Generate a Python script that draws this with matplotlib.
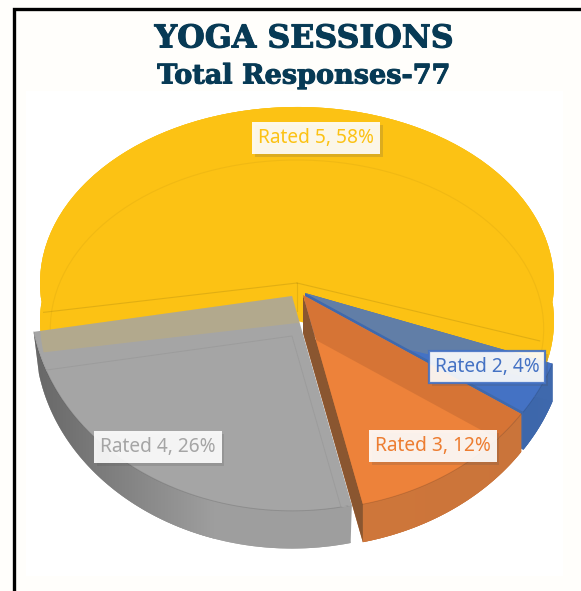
import numpy as np
import matplotlib
matplotlib.use('Agg')
import matplotlib.pyplot as plt
from matplotlib.patches import Rectangle, Polygon, Wedge
from matplotlib.transforms import Affine2D
from matplotlib.colors import LinearSegmentedColormap
import matplotlib.patheffects as pe

W, H = 581, 591
DEPTH = 38

# clockwise from the back of the pie
categories = ['Rated 5', 'Rated 2', 'Rated 3', 'Rated 4']
shares = [58, 4, 12, 26]
colors = ['#fcc214', '#4472c4', '#ed823a', '#a5a5a5']
label_colors = ['#fcc214', '#4472c4', '#ed7d31', '#a5a5a5']
rim_colors = [('#fcc214', '#fcc214'), ('#2c5596', '#3f69ad'),
              ('#d87b3c', '#c9743a'), ('#666666', '#9e9e9e')]
# pixel placement of every slice: centre x, centre y, radius, squash
placement = [(297, 283, 257, 0.685), (305, 293, 262, 0.82),
             (303, 295, 262, 0.82), (292, 296, 262, 0.82)]
label_pos = [(316, 138), (487, 367), (433, 446), (158, 447)]
# which slice's underside shows through each slice, and how strongly
overlay = [None, (0, 0.16), None, (0, 0.16)]


def place(i, shift=0, inset=1.0):
    cx, cy, r, sq = placement[i]
    return Affine2D().scale(r * inset, r * inset * sq).translate(cx, H - cy - shift) + ax.transData


def arc(i, t1, t2, shift=0, inset=1.0, n=80):
    cx, cy, r, sq = placement[i]
    t = np.radians(np.linspace(t1, t2, n))
    return cx + r * inset * np.cos(t), H - cy - shift + r * inset * sq * np.sin(t)


fig = plt.figure(figsize=(W / 100, H / 100), dpi=100, facecolor='#fffefb')
ax = fig.add_axes([0, 0, 1, 1])

wedges, _ = ax.pie(shares, startangle=189.6, counterclock=False, colors=colors, radius=1)
ax.set_aspect('auto')
ax.set_xlim(0, W)
ax.set_ylim(0, H)

ax.add_patch(Rectangle((26, H - 576), 537, 485, fc='white', ec='none', zorder=0))
ax.add_patch(Rectangle((14, -5), W + 20, H - 4, fc='none', ec='black', lw=2.4, zorder=0.5))

# back to front: yellow, blue, orange, grey
for z, i in enumerate([0, 1, 2, 3]):
    w = wedges[i]
    base = 1 + z
    t1, t2 = w.theta1, w.theta2
    # the grey rim narrows a little towards the bottom, like the perspective in the original
    low_inset = 0.98 if i == 3 else 1.0
    low_depth = DEPTH + 4 if i == 3 else DEPTH
    # rim, swept downwards from the outer arc
    x1, y1 = arc(i, t1, t2)
    x2, y2 = arc(i, t1, t2, shift=low_depth, inset=low_inset)
    sweep = Polygon(np.column_stack([np.r_[x1, x2[::-1]], np.r_[y1, y2[::-1]]]),
                    fc=rim_colors[i][1], ec='none', zorder=base)
    ax.add_patch(sweep)
    low = Wedge((0, 0), 1, t1, t2, fc=rim_colors[i][1], ec='none', zorder=base,
                transform=place(i, shift=low_depth, inset=low_inset))
    ax.add_patch(low)
    cx, cy, r, sq = placement[i]
    cmap = LinearSegmentedColormap.from_list('rim', rim_colors[i])
    span = (cx - r, cx - r * 0.3) if i == 3 else (cx - r, cx + r)
    img = ax.imshow(np.linspace(0, 1, 256)[None, :], extent=(span[0], span[1], 0, H), cmap=cmap,
                    aspect='auto', zorder=base + 0.1, origin='lower')
    img.set_clip_path(sweep)

    # cut faces: dark on the left of orange, blue under the lower edge of blue
    if i == 2:
        xa, ya = arc(i, t1, t1, n=1)
        face = [(cx, H - cy), (xa[0], ya[0]), (xa[0], ya[0] - DEPTH), (cx, H - cy - DEPTH)]
        ax.add_patch(Polygon(face, fc='#8a5630', ec='none', zorder=base + 0.2))
    if i == 1:
        xa, ya = arc(i, t2, t2, n=1)
        face = [(cx, H - cy), (xa[0], ya[0]), (xa[0], ya[0] - DEPTH), (cx, H - cy - DEPTH)]
        ax.add_patch(Polygon(face, fc='#3f69ad', ec='none', zorder=base + 0.2))

    w.set_zorder(base + 0.3)
    w.set_transform(place(i))
    w.set_edgecolor('none')

    if overlay[i] is not None:
        k, a = overlay[i]
        over = Wedge((0, 0), 1, wedges[k].theta1, wedges[k].theta2, fc=colors[k], ec='none',
                     alpha=a, zorder=base + 0.4, transform=place(k, shift=DEPTH + 2))
        ax.add_patch(over)
        over.set_clip_path(w)

    # the blue slice's upper edge shades the back of the orange top
    if i == 2:
        xa, ya = arc(i, t2, t2, n=1)
        xb, yb = arc(i, t2, t2, shift=DEPTH, n=1)
        dark = Polygon([(cx, H - cy), (xa[0], ya[0]), (xb[0], yb[0]), (cx, H - cy - DEPTH)],
                       fc='#c46a32', ec='none', alpha=0.55, zorder=base + 0.4)
        ax.add_patch(dark)
        dark.set_clip_path(w)

    # faint line where the top meets the rim
    if i != 0:
        bx, by = arc(i, t1, t2)
        ax.add_line(plt.Line2D(bx, by, color='#000000', alpha=0.12, lw=0.7, zorder=base + 0.5))

# inner bevel of the yellow slice
bx, by = arc(0, wedges[0].theta1, wedges[0].theta2, shift=46, inset=0.96)
ax.plot(bx, by, color='#c99a10', alpha=0.22, lw=0.8, zorder=1.5)
cx, cy, r, sq = placement[0]
for t in (wedges[0].theta1, wedges[0].theta2):
    ex, ey = arc(0, t, t, n=1)
    ax.plot([cx, ex[0]], [H - cy, ey[0]], color='#b08a10', alpha=0.35, lw=0.8, zorder=1.5)
ax.plot([cx, cx], [H - cy, H - cy - 28], color='#b08a10', alpha=0.3, lw=0.8, zorder=1.5)

# inner bevel of the grey slice
cx, cy, r, sq = placement[3]
ex1, ey1 = arc(3, wedges[3].theta1, wedges[3].theta1, inset=0.95, shift=40, n=1)
ex2, ey2 = arc(3, wedges[3].theta2, wedges[3].theta2, inset=0.95, shift=40, n=1)
bevel = ax.plot([ex1[0], cx, ex2[0]], [ey1[0], H - cy - 40, ey2[0]], color='#8c8c8c', alpha=0.35, lw=0.7, zorder=4.5)[0]
bevel.set_clip_path(wedges[3])

heavy = [pe.withStroke(linewidth=0.7, foreground='#073a55')]
ax.text(304, H - 39, 'YOGA SESSIONS', family='DejaVu Serif', weight='bold', fontsize=22.8,
        color='#073a55', ha='center', va='center', zorder=10, path_effects=heavy)
ax.text(304, H - 76, 'Total Responses-77', family='DejaVu Serif', weight='bold', fontsize=19.5,
        color='#073a55', ha='center', va='center', zorder=10, path_effects=heavy)

for cat, share, col, pos in zip(categories, shares, label_colors, label_pos):
    t = ax.text(pos[0], H - pos[1], '{}, {}%'.format(cat, share), family='Noto Sans', fontsize=13.8, color=col,
                ha='center', va='center', zorder=11,
                bbox=dict(boxstyle='square,pad=0.3', fc='white', alpha=0.9,
                          ec='#4472c4' if cat == 'Rated 2' else 'none', lw=1.6))
    t.get_bbox_patch().set_path_effects([pe.withSimplePatchShadow(offset=(2, -2), alpha=0.18)])

fig.savefig('out.png', dpi=100, facecolor=fig.get_facecolor())
